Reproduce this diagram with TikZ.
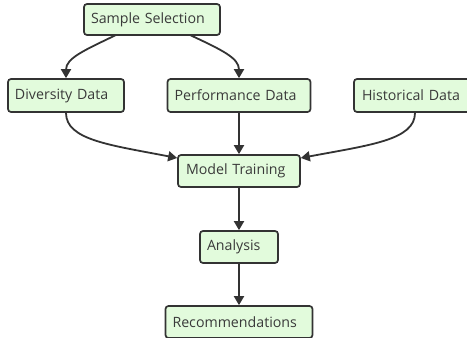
\documentclass[tikz,border=0pt]{standalone}
\usepackage{fontspec}
\setmainfont{Open Sans}
\usetikzlibrary{arrows.meta}
\definecolor{boxfill}{HTML}{E2FBDC}
\definecolor{edge}{HTML}{333333}
\definecolor{txt}{HTML}{3A3A3A}
\tikzset{
  x=1pt,y=-1pt,
  box/.style={draw=edge,fill=boxfill,line width=1.7pt,rounded corners=3pt,anchor=center,inner sep=0pt,text=txt,align=left,font=\fontsize{14.2}{16}\selectfont},
  conn/.style={draw=edge,line width=1.8pt,-{Triangle[length=9pt,width=10pt]}}
}
\begin{document}
\begin{tikzpicture}
\useasboundingbox (0,0) rectangle (467,338);
\clip (0,0) rectangle (467,338);
\node[box,minimum width=136pt,minimum height=31pt,text width=122pt] (ss) at (152,19.5) {Sample Selection};
\node[box,minimum width=116pt,minimum height=33pt,text width=102pt] (dd) at (66,95.5) {Diversity Data};
\node[box,minimum width=143pt,minimum height=33pt,text width=129pt] (pd) at (239,95.5) {Performance Data};
\node[box,minimum width=116pt,minimum height=33pt,text width=100pt] (hd) at (412,95.5) {Historical Data};
\node[box,minimum width=122pt,minimum height=32pt,text width=106pt] (mt) at (239,171) {Model Training};
\node[box,minimum width=78pt,minimum height=32pt,text width=64pt] (an) at (239,247) {Analysis};
\node[box,minimum width=147pt,minimum height=32pt,text width=133pt] (rc) at (239,322) {Recommendations};
\coordinate (ssl) at (116,35);
\coordinate (ssr) at (190,35);
\draw[conn] (ssl) .. controls (85,50) and (66,58) .. (dd.north);
\draw[conn] (ssr) .. controls (222,50) and (239,58) .. (pd.north);
\draw[conn] (dd.south) .. controls (66,140) and (110,145) .. (mt.west |- 0,158);
\draw[conn] (hd.south -| 415,0) .. controls (415,140) and (370,145) .. (mt.east |- 0,158);
\draw[conn] (pd.south) -- (mt.north);
\draw[conn] (mt.south) -- (an.north);
\draw[conn] (an.south) -- (rc.north);
\end{tikzpicture}
\end{document}
